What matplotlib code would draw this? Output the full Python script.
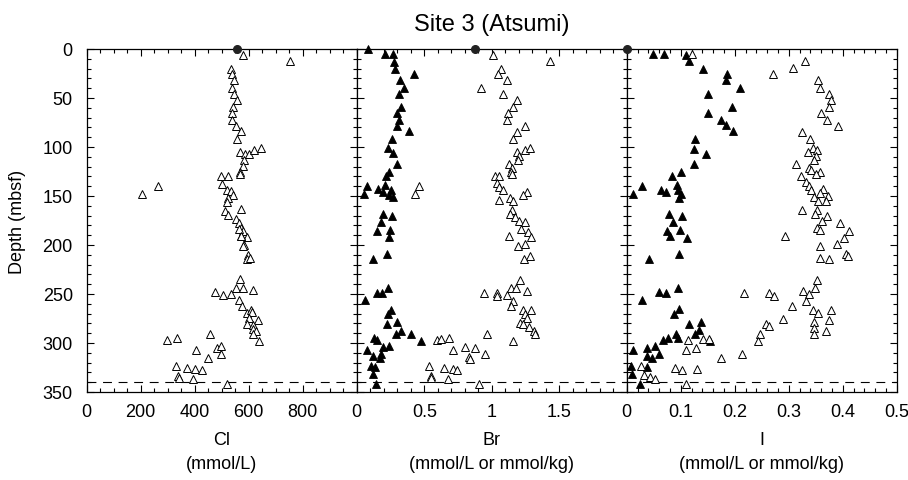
import matplotlib
matplotlib.use("Agg")
from matplotlib import pyplot as plt
from matplotlib.ticker import MultipleLocator, FormatStrFormatter
import numpy as np

plt.rcParams['font.family'] = ['Liberation Sans', 'DejaVu Sans']

# Cl (open triangles)
cl_depth = [6.1, 12.2, 20.4, 25.9, 32, 39.5, 45.6, 52.4, 59.2, 65.3, 72.1, 78.2, 83.7, 91.8,
            104.8, 106.8, 107.5, 103.4, 101.4, 113, 119.7, 125.2, 127.9, 129.2, 129.2, 138.1,
            140.1, 147.6, 144.2, 144.9, 149, 152.4, 156.5, 163.3, 165.3, 169.4, 173.5, 177.5,
            182.3, 185.7, 191.8, 191.1, 200, 183.7, 190.5, 201.4, 210.2, 214.3, 213,
            234.7, 243.6, 243.6, 246.3, 248.3, 251.1, 250.4, 256.5, 262.6, 269.4, 266, 268.7,
            274.8, 276.2, 280.3, 281.7, 285.7, 287.8, 291.2, 298, 296.6, 294.6, 290.5, 307.5,
            304.8, 303.4, 310.9, 315, 323.8, 325.2, 326.6, 327.9, 333.4, 335.4, 336.7, 342.2]
cl_value = [580, 753, 533, 537, 545, 537, 545, 555, 543, 537, 538, 553, 573, 558,
            568, 585, 600, 620, 644, 584, 580, 568, 566, 499, 523, 501,
            264, 204, 518, 536, 543, 525, 518, 573, 513, 523, 553, 563,
            573, 578, 592, 573, 583, 563, 570, 580, 597, 592, 605,
            568, 553, 578, 615, 475, 506, 533, 565, 575, 592, 610, 612,
            602, 634, 592, 615, 617, 627, 615, 637, 299, 336, 455, 405,
            484, 499, 499, 449, 331, 373, 400, 427, 338, 341, 395, 518]

# Br filled triangles
brf_depth = [0, 4.8, 5.4, 12.9, 20.4, 25.2, 32, 39.5, 45.6, 59.2, 65.3, 72.1, 78.2, 83.7,
             91.8, 101.3, 106.1, 117.7, 125.2, 129.9, 140.1, 147.6, 142.8, 146.2, 138.8, 144.2,
             149, 151, 168, 170.7, 176.9, 185.7, 184.3, 191.8, 209.6, 214.3, 244.2, 249, 249,
             255.8, 266, 270.1, 278.3, 280.3, 287.8, 291.2, 290.5, 298, 295.3, 296.6, 304.1,
             303.4, 307.5, 313.6, 310.9, 315.7, 323.1, 324.5, 332, 341.5]
brf_value = [0.086, 0.207, 0.266, 0.279, 0.286, 0.424, 0.321, 0.353, 0.311, 0.326, 0.301, 0.316,
             0.296, 0.390, 0.262, 0.232, 0.266, 0.296, 0.239, 0.217, 0.079, 0.054, 0.158, 0.197,
             0.212, 0.257, 0.242, 0.266, 0.192, 0.259, 0.182, 0.153, 0.247, 0.242, 0.227, 0.118,
             0.232, 0.153, 0.188, 0.064, 0.252, 0.232, 0.296, 0.222, 0.326, 0.291, 0.400, 0.474,
             0.128, 0.148, 0.192, 0.242, 0.074, 0.118, 0.182, 0.173, 0.108, 0.138, 0.118, 0.143]

# Br open triangles
bro_depth = [6.1, 12.2, 20.4, 25.9, 32, 39.5, 45.6, 52.4, 59.2, 65.3, 72.1, 78.2, 84.3, 91.8,
             104.8, 108.8, 113, 103.4, 101.4, 117.7, 121.8, 125.2, 127.9, 129.2, 129.2, 136.7,
             140.1, 147.6, 140.8, 144.2, 153.7, 146.2, 149, 151.7, 155.1, 164, 168, 171.4, 175.5,
             176.9, 183.7, 186.4, 191.1, 191.8, 201.3, 199.3, 210.9, 214.3, 235.4, 244.2, 244.2,
             247, 249, 249, 252.4, 251, 257.2, 262.6, 266, 266.7, 270.1, 274.2, 279.6, 280.3,
             283.7, 287.8, 291.2, 298, 290.5, 296.6, 295.9, 295.3, 307.5, 304.1, 304.8, 310.9,
             314.3, 316.3, 323.8, 325.2, 326.6, 327.9, 333.4, 335.4, 336.7, 342.2]
bro_value = [1.012, 1.432, 1.066, 1.047, 1.111, 0.918, 1.081, 1.185, 1.160, 1.121, 1.116, 1.244,
             1.190, 1.160, 1.185, 1.200, 1.195, 1.249, 1.284, 1.126, 1.150, 1.145, 1.150, 1.027,
             1.057, 1.037, 0.459, 0.429, 1.052, 1.081, 1.057, 1.259, 1.229, 1.136, 1.155, 1.150,
             1.136, 1.175, 1.200, 1.244, 1.220, 1.269, 1.126, 1.294, 1.195, 1.249, 1.284, 1.239,
             1.210, 1.145, 1.180, 1.259, 0.943, 1.037, 1.037, 1.111, 1.160, 1.141, 1.229, 1.289,
             1.244, 1.264, 1.210, 1.234, 1.274, 1.313, 1.318, 1.160, 0.968, 0.597, 0.622, 0.686,
             0.711, 0.805, 0.874, 0.953, 0.834, 0.839, 0.533, 0.647, 0.711, 0.741, 0.553, 0.548,
             0.676, 0.903]

# I filled triangles
if_depth = [5.4, 4.8, 6.1, 12.2, 20.4, 25.9, 32, 39.5, 45.6, 59.2, 65.3, 72.8, 77.5, 83.7, 91.8,
            102, 106.8, 117.7, 125.2, 129.2, 140.1, 147.6, 143.5, 146.2, 138.8, 143.5, 148.3,
            151.7, 168, 170.7, 176.9, 185.7, 184.3, 191.1, 192.5, 208.9, 214.3, 244.2, 248.3,
            249, 255.8, 265.3, 270.1, 280.3, 278.3, 287.1, 291.2, 290.5, 295.3, 298, 294.6,
            296.6, 307.5, 304.8, 303.4, 313.6, 315.7, 310.9, 323.1, 324.5, 332, 341.5]
if_value = [0.049, 0.069, 0.110, 0.115, 0.141, 0.185, 0.183, 0.209, 0.151, 0.194, 0.151, 0.174,
            0.183, 0.197, 0.126, 0.125, 0.147, 0.125, 0.100, 0.083, 0.028, 0.011, 0.063, 0.072,
            0.093, 0.095, 0.100, 0.096, 0.079, 0.102, 0.086, 0.074, 0.099, 0.080, 0.111, 0.097,
            0.042, 0.094, 0.060, 0.073, 0.028, 0.096, 0.088, 0.115, 0.138, 0.134, 0.126, 0.091,
            0.094, 0.154, 0.077, 0.067, 0.011, 0.038, 0.052, 0.038, 0.047, 0.060, 0.007, 0.037,
            0.010, 0.025]

# I open triangles
io_depth = [5.4, 12.2, 19.7, 25.2, 32, 39.5, 45.6, 52.4, 59.2, 65.3, 72.1, 78.2, 84.3, 91.8,
            101.4, 103.4, 105.4, 108.8, 113, 117.7, 121.8, 123.8, 125.2, 127.9, 129.2, 136,
            139.4, 144.2, 142.8, 146.9, 149.6, 151, 155.1, 155.1, 164, 164.6, 170.7, 168.7,
            175.5, 177.5, 182.3, 184.3, 185.7, 192.5, 190.5, 201.3, 199.3, 208.9, 210.9, 213,
            214.3, 235.4, 244.2, 247, 249, 249, 252.4, 250.4, 257.2, 262.6, 266, 269.4, 266.7,
            275.5, 278.3, 276.2, 281, 283, 285, 287.8, 291.2, 290.5, 298, 297.3, 295.9, 295.9,
            307.5, 304.8, 315.7, 310.9, 323.1, 325.2, 327.9, 326.6, 332.7, 334.7, 336.7, 341.5]
io_value = [0.121, 0.330, 0.307, 0.270, 0.354, 0.357, 0.375, 0.378, 0.375, 0.359, 0.370, 0.391,
            0.325, 0.339, 0.344, 0.353, 0.336, 0.351, 0.347, 0.314, 0.338, 0.341, 0.357, 0.351,
            0.322, 0.331, 0.337, 0.342, 0.364, 0.358, 0.372, 0.346, 0.354, 0.368, 0.325, 0.353,
            0.370, 0.348, 0.361, 0.394, 0.353, 0.358, 0.411, 0.402, 0.293, 0.357, 0.390, 0.405,
            0.409, 0.358, 0.374, 0.353, 0.348, 0.326, 0.217, 0.264, 0.273, 0.337, 0.331, 0.305,
            0.344, 0.354, 0.379, 0.290, 0.346, 0.374, 0.258, 0.264, 0.347, 0.368, 0.347, 0.246,
            0.243, 0.114, 0.142, 0.152, 0.109, 0.128, 0.175, 0.214, 0.026, 0.089, 0.102, 0.130,
            0.032, 0.043, 0.053, 0.110]

# seawater values at depth 0
sw_value = [555, 0.879, 0.0]
bsr_depth = 340

xlims = [(0, 1000), (0, 2), (0, 0.5)]
majors = [200, 0.5, 0.1]
minors = [50, 0.1, 0.02]
xlabels = ["Cl\n(mmol/L)", "Br\n(mmol/L or mmol/kg)", "I\n(mmol/L or mmol/kg)"]

fig = plt.figure(figsize=(9.08, 4.81), dpi=100)
left, bottom, w, h = 0.0955, 0.183, 0.2974, 0.7131
axes = [fig.add_axes([left + i * w, bottom, w, h]) for i in range(3)]

series = [
        [(cl_value, cl_depth, "open")],
        [(brf_value, brf_depth, "fill"), (bro_value, bro_depth, "open")],
        [(if_value, if_depth, "fill"), (io_value, io_depth, "open")],
]

for i, ax in enumerate(axes):
        for xs, ys, kind in series[i]:
                if kind == "fill":
                        ax.plot(xs, ys, "^", ms=5.2, mfc="black", mec="black", mew=0.6,
                                clip_on=False, zorder=3)
                else:
                        ax.plot(xs, ys, "^", ms=5.2, mfc="white", mec="black", mew=0.7,
                                clip_on=False, zorder=3)
        ax.plot([sw_value[i]], [0], "o", ms=5.5, color="#222222", clip_on=False, zorder=4)
        ax.axhline(bsr_depth, color="black", lw=0.8, dashes=(8, 6))

        ax.set_ylim(350, 0)
        ax.xaxis.set_major_locator(MultipleLocator(majors[i]))
        ax.xaxis.set_minor_locator(MultipleLocator(minors[i]))
        ax.xaxis.set_major_formatter(FormatStrFormatter("%g"))
        ax.yaxis.set_major_locator(MultipleLocator(50))
        ax.yaxis.set_minor_locator(MultipleLocator(10))
        ax.tick_params(which="both", direction="in", top=True, right=True, labelsize=13,
                       width=0.8)
        ax.tick_params(which="major", length=5)
        ax.tick_params(which="minor", length=3)
        ax.tick_params(axis="x", pad=8)
        ax.tick_params(axis="y", pad=10)
        for s in ax.spines.values():
                s.set_linewidth(0.9)
        ax.set_xlabel(xlabels[i], fontsize=13, linespacing=1.5, labelpad=8)
        if i > 0:
                ax.tick_params(labelleft=False)
        ticks = np.arange(xlims[i][0], xlims[i][1] + 1e-9, majors[i])
        if i < 2:
                # last label is shared with next panel's 0
                ticks = ticks[:-1]
        ax.set_xticks(ticks)
        ax.set_xlim(*xlims[i])

axes[0].set_ylabel("Depth (mbsf)", fontsize=13, labelpad=12)
fig.text(left + 1.5 * w, 0.948, "Site 3 (Atsumi)", fontsize=17, ha="center", va="center")

fig.savefig("out.png", dpi=100)
